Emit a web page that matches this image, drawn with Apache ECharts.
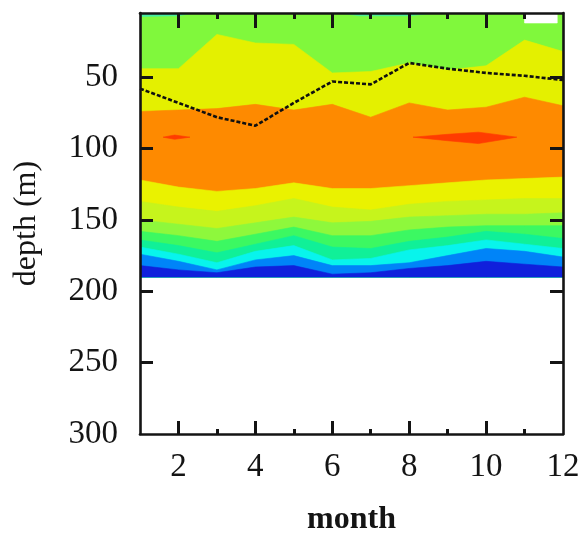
<!DOCTYPE html>
<html>
<head>
<meta charset="utf-8">
<script src="https://cdn.jsdelivr.net/npm/echarts@6/dist/echarts.min.js"></script>
<style>
  html, body { margin: 0; padding: 0; background: #ffffff; }
  #chart { width: 582px; height: 533px; }
</style>
</head>
<body>
<div id="chart"></div>
<script>
// Monthly depth section: filled contour bands (depth of each band's upper edge, m)
const months = [1, 2, 3, 4, 5, 6, 7, 8, 9, 10, 11, 12];
const dataTop = 5;
const dataBottom = 190;

const yellowTop        = [44, 44, 20, 26, 27, 47, 46, 40, 45, 42, 24, 32];
const orangeTop        = [74, 73, 72, 69, 73, 69, 78, 68, 73, 71, 64, 70];
const orangeBottom     = [122, 127, 130, 128, 124, 128, 128, 126, 124, 122, 121, 120];
const yellowBottom     = [137, 141, 144, 140, 135, 141, 143, 139, 137, 136, 135, 135];
const yellowGreenBottom= [150, 153, 156, 152, 148, 152, 151, 148, 147, 146, 146, 145];
const lightGreenBottom = [158, 161, 165, 160, 155, 161, 161, 157, 155, 154, 154, 154];
const greenBottom      = [164, 168, 173, 167, 161, 169, 170, 165, 162, 158, 160, 163];
const aquaBottom       = [169, 174, 180, 172, 168, 178, 177, 171, 168, 164, 167, 170];
const cyanBottom       = [174, 179, 185, 178, 175, 182, 182, 180, 175, 170, 172, 176];
const blueBottom       = [182, 185, 187, 183, 182, 188, 187, 184, 182, 179, 181, 183];

// Mixed layer depth (dashed line)
const mixedLayer = [58, 68, 78, 84, 68, 53, 55, 40, 44, 47, 49, 52];

// Small closed features
const redLeftMonths   = [1.6, 1.9, 2.3];
const redLeftTop      = [92, 90.5, 92];
const redLeftBottom   = [92, 93.5, 92];
const redRightMonths  = [8.1, 9.0, 9.8, 10.8];
const redRightTop     = [92, 90, 88.5, 92];
const redRightBottom  = [92, 94.5, 96.5, 92];
const tealLeftMonths  = [1, 2, 2.4];
const tealLeftBottom  = [7.5, 7, 5];
const tealRightMonths = [6.2, 6.7, 8.0, 8.7];
const tealRightBottom = [5, 7, 7, 5];
const gapMonths       = [11.0, 11.85];
const gapBottom       = [12, 12];

// Axis ticks and labels
const xMajorTicks = [2, 4, 6, 8, 10];
const xMinorTicks = [3, 5, 7, 9, 11];
const xLabels     = [2, 4, 6, 8, 10, 12];
const yTicks      = [50, 100, 150, 200, 250];
const yLabels     = [50, 100, 150, 200, 250, 300];

const C = {
  green: '#80f83c',
  yellow: '#e4f000',
  orange: '#fe8a00',
  red: '#ff3c00',
  yellowLow: '#eaf200',
  yellowGreen: '#c6f41c',
  lightGreen: '#8ef83c',
  greenMid: '#3cf862',
  aquaGreen: '#10f098',
  cyan: '#08f4ec',
  blue: '#0084f8',
  darkBlue: '#1020dc',
  teal: '#46eea4',
  gap: '#ffffff'
};

const asArray = (v, n) => Array.isArray(v) ? v : new Array(n).fill(v);

function region(name, xs, upper, lower, color) {
  const up = asArray(upper, xs.length);
  const lo = asArray(lower, xs.length);
  return {
    type: 'custom',
    name: name,
    xAxisIndex: 0,
    yAxisIndex: 0,
    silent: true,
    clip: true,
    z: 1,
    data: [0],
    renderItem: function (params, api) {
      const pts = [];
      for (let i = 0; i < xs.length; i++) pts.push(api.coord([xs[i], up[i]]));
      for (let i = xs.length - 1; i >= 0; i--) pts.push(api.coord([xs[i], lo[i]]));
      return {
        type: 'polygon',
        shape: { points: pts },
        style: { fill: color, stroke: color, lineWidth: 0.6 }
      };
    }
  };
}

const font = 'Liberation Serif';
const axisColor = '#141414';

const series = [
  region('green', months, dataTop, dataBottom, C.green),
  region('yellow', months, yellowTop, dataBottom, C.yellow),
  region('orange', months, orangeTop, dataBottom, C.orange),
  region('yellowLow', months, orangeBottom, dataBottom, C.yellowLow),
  region('yellowGreen', months, yellowBottom, dataBottom, C.yellowGreen),
  region('lightGreen', months, yellowGreenBottom, dataBottom, C.lightGreen),
  region('greenMid', months, lightGreenBottom, dataBottom, C.greenMid),
  region('aquaGreen', months, greenBottom, dataBottom, C.aquaGreen),
  region('cyan', months, aquaBottom, dataBottom, C.cyan),
  region('blue', months, cyanBottom, dataBottom, C.blue),
  region('darkBlue', months, blueBottom, dataBottom, C.darkBlue),
  region('redLeft', redLeftMonths, redLeftTop, redLeftBottom, C.red),
  region('redRight', redRightMonths, redRightTop, redRightBottom, C.red),
  region('tealLeft', tealLeftMonths, dataTop, tealLeftBottom, C.teal),
  region('tealRight', tealRightMonths, dataTop, tealRightBottom, C.teal),
  region('gap', gapMonths, dataTop, gapBottom, C.gap),
  {
    type: 'line',
    name: 'mixed layer',
    xAxisIndex: 0,
    yAxisIndex: 0,
    data: months.map((m, i) => [m, mixedLayer[i]]),
    symbol: 'none',
    z: 3,
    lineStyle: { color: '#101010', width: 2.6, type: [4, 2] }
  }
];

// Main grid carries the long ticks and labels; a twin grid on the same
// rectangle carries the short odd-month ticks.
function xAxisDef(gridIndex, position, ticks, len, withLabels, withLine) {
  return {
    type: 'value',
    gridIndex: gridIndex,
    position: position,
    min: 1,
    max: 12,
    z: 20,
    splitLine: { show: false },
    axisLine: { show: withLine, onZero: false, lineStyle: { color: axisColor, width: 2.6 } },
    axisTick: { show: true, inside: true, length: len, customValues: ticks,
                lineStyle: { color: axisColor, width: 3 } },
    axisLabel: withLabels
      ? { show: true, customValues: xLabels, margin: 17, color: axisColor,
          fontFamily: font, fontSize: 33 }
      : { show: false },
    name: withLabels ? 'month' : '',
    nameLocation: 'middle',
    nameGap: 70,
    nameTextStyle: { fontFamily: font, fontSize: 32, fontWeight: 'bold', color: axisColor }
  };
}

function yAxisDef(gridIndex, position, withLabels, withTicks) {
  return {
    type: 'value',
    gridIndex: gridIndex,
    position: position,
    inverse: true,
    min: dataTop,
    max: 300,
    z: 20,
    splitLine: { show: false },
    axisLine: { show: withTicks, onZero: false, lineStyle: { color: axisColor, width: 2.6 } },
    axisTick: { show: withTicks, inside: true, length: 13, customValues: yTicks,
                lineStyle: { color: axisColor, width: 3 } },
    axisLabel: withLabels
      ? { show: true, customValues: yLabels, margin: 22, color: axisColor,
          fontFamily: font, fontSize: 33 }
      : { show: false },
    name: withLabels ? 'depth (m)' : '',
    nameLocation: 'middle',
    nameGap: 97,
    nameTextStyle: { fontFamily: font, fontSize: 32, color: axisColor }
  };
}

const gridBox = { left: 140, right: 19, top: 13, bottom: 99, containLabel: false, outerBoundsMode: 'none' };

const chart = echarts.init(document.getElementById('chart'), null, { renderer: 'canvas' });
chart.setOption({
  animation: false,
  backgroundColor: '#ffffff',
  grid: [Object.assign({}, gridBox), Object.assign({}, gridBox)],
  xAxis: [
    xAxisDef(0, 'bottom', xMajorTicks, 13, true, true),
    xAxisDef(0, 'top', xMajorTicks, 15, false, true),
    xAxisDef(1, 'bottom', xMinorTicks, 5, false, false),
    xAxisDef(1, 'top', xMinorTicks, 6, false, false)
  ],
  yAxis: [
    yAxisDef(0, 'left', true, true),
    yAxisDef(0, 'right', false, true),
    yAxisDef(1, 'left', false, false)
  ],
  series: series
});
</script>
</body>
</html>
